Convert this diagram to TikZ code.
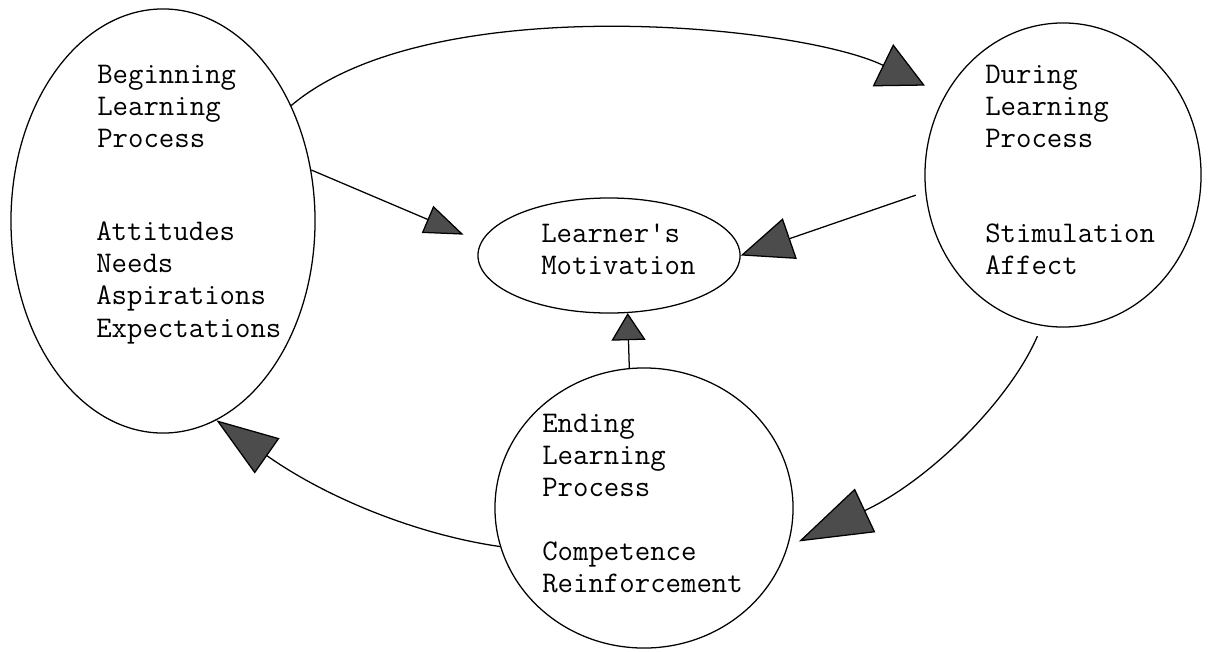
\documentclass[tikz,border=0pt]{standalone}
\usetikzlibrary{shapes.geometric,arrows.meta}
\tikzset{
  blob/.style={draw, ellipse, line width=0.9pt, inner sep=0pt},
  txt/.style={anchor=base west, inner sep=0pt, font=\fontsize{21.3}{23}\selectfont\ttfamily},
  conn/.style={line width=0.9pt},
  hd/.style 2 args={-{Triangle[length=#1,width=#2,fill=black!70]}}
}
\begin{document}
\begin{tikzpicture}[x=0.025cm,y=-0.025cm]
\useasboundingbox (0,0) rectangle (1208,651);
% ovals
\node[blob, minimum width=7.6cm, minimum height=10.6cm] (L) at (163,221) {};
\node[blob, minimum width=6.9cm, minimum height=7.6cm] (R) at (1063,175) {};
\node[blob, minimum width=6.55cm, minimum height=2.875cm] (C) at (609,255.5) {};
\node[blob, minimum width=7.45cm, minimum height=7cm] (E) at (644,508) {};
% texts
\node[txt] (Lh) at (97,83) {\begin{tabular}[t]{@{}l@{}}Beginning\\Learning\\Process\end{tabular}};
\node[txt] (Ll) at (96,240) {\begin{tabular}[t]{@{}l@{}}Attitudes\\Needs\\Aspirations\\Expectations\end{tabular}};
\node[txt] (Rh) at (985,83) {\begin{tabular}[t]{@{}l@{}}During\\Learning\\Process\end{tabular}};
\node[txt] (Rl) at (985,242) {\begin{tabular}[t]{@{}l@{}}Stimulation\\Affect\end{tabular}};
\node[txt] (Ct) at (541,242) {\begin{tabular}[t]{@{}l@{}}Learner's\\Motivation\end{tabular}};
\node[txt] (Eh) at (542,432) {\begin{tabular}[t]{@{}l@{}}Ending\\Learning\\Process\end{tabular}};
\node[txt] (El) at (542,560) {\begin{tabular}[t]{@{}l@{}}Competence\\Reinforcement\end{tabular}};
% connectors
\draw[conn, hd={1.17cm}{1.17cm}, shorten >=0.55cm] (L.42) .. controls (430,-12) and (800,25) .. (R.146.5);
\draw[conn, hd={0.98cm}{0.73cm}, shorten >=0.47cm] (L.19) -- (C.174);
\draw[conn, hd={1.3cm}{1.07cm}, shorten <=0.25cm] (R.187.4) -- (C.east);
\draw[conn, hd={0.68cm}{0.85cm}] (E.96.6) -- (C.288.4);
\draw[conn, hd={1.83cm}{1.2cm}, shorten <=0.28cm, shorten >=0.3cm] (R.262.7) .. controls (1010,400) and (930,480) .. (E.345.7);
\draw[conn, hd={1.55cm}{1.07cm}] (E.195) .. controls (420,535) and (330,500) .. (L.285.1);
\end{tikzpicture}
\end{document}
